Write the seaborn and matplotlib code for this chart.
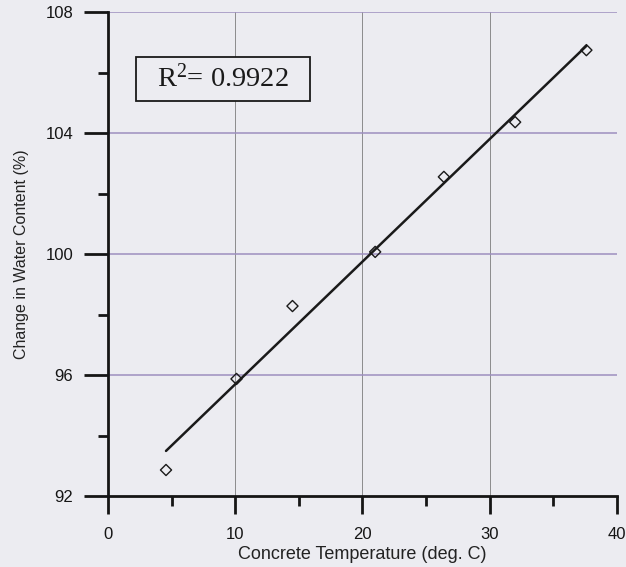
import numpy as np
import pandas as pd
import matplotlib
matplotlib.use('Agg')
import matplotlib.pyplot as plt
import seaborn as sns
from matplotlib.ticker import MultipleLocator
from matplotlib.patches import Rectangle

# values
temperature = [4.56, 10.1, 14.5, 21.0, 26.4, 32.0, 37.6]
water_change = [92.86, 95.87, 98.28, 100.07, 102.55, 104.36, 106.74]
r2_label = 'R$^2$= 0.9922'

df = pd.DataFrame({'temp': temperature, 'water': water_change})

bg = '#ececf1'
sns.set_style('white')
plt.rcParams['font.family'] = ['Liberation Sans', 'DejaVu Sans']
plt.rcParams['mathtext.fontset'] = 'custom'
plt.rcParams['mathtext.rm'] = 'Liberation Serif'
plt.rcParams['mathtext.it'] = 'Liberation Serif:italic'

fig = plt.figure(figsize=(6.26, 5.67), dpi=100, facecolor=bg)
ax = fig.add_axes([0.1725, 0.1252, 0.813, 0.8536])
ax.set_facecolor(bg)

# fitted trend line
sns.regplot(data=df, x='temp', y='water', ax=ax, scatter=False, ci=None,
            line_kws={'color': '#1a1a1a', 'lw': 1.8, 'zorder': 3})
# open diamond markers
sns.scatterplot(data=df, x='temp', y='water', ax=ax, marker='D', s=32,
                facecolor='none', edgecolor='#1a1a1a', linewidth=1.0, zorder=4)

ax.set_xlim(0, 40)
ax.set_ylim(92, 108)
ax.xaxis.set_major_locator(MultipleLocator(10))
ax.xaxis.set_minor_locator(MultipleLocator(5))
ax.yaxis.set_major_locator(MultipleLocator(4))
ax.yaxis.set_minor_locator(MultipleLocator(2))

# grid: vertical grey, horizontal tinted like the scan
for xv in [10, 20, 30, 40]:
    ax.axvline(xv, color='#8c8c8c', lw=0.7, zorder=1)
for yv in [96, 100, 104, 108]:
    ax.axhline(yv, color='#9d8fbf', lw=1.1, zorder=1)

for s in ['top', 'right']:
    ax.spines[s].set_visible(False)
for s in ['left', 'bottom']:
    ax.spines[s].set_linewidth(2.0)
    ax.spines[s].set_color('#151515')

ax.tick_params(axis='y', which='major', direction='out', length=17, width=2,
               pad=8, labelsize=12, colors='#151515', left=True)
ax.tick_params(axis='y', which='minor', direction='out', length=7, width=2,
               colors='#151515', left=True)
ax.tick_params(axis='x', which='major', direction='out', length=13, width=2,
               pad=9, labelsize=12, colors='#151515', bottom=True)
ax.tick_params(axis='x', which='minor', direction='out', length=7, width=2,
               colors='#151515', bottom=True)

ax.set_xlabel('Concrete Temperature (deg. C)', fontsize=13, color='#222222', labelpad=3)
ax.set_ylabel('Change in Water Content (%)', fontsize=11.5, color='#222222', labelpad=12)

# R^2 box
ax.add_patch(Rectangle((0.055, 0.816), 0.342, 0.091, transform=ax.transAxes,
                       facecolor=bg, edgecolor='#1a1a1a', lw=1.3, zorder=5))
ax.text(0.226, 0.862, r2_label, transform=ax.transAxes, ha='center', va='center',
        fontsize=20.5, family='Liberation Serif', color='#1a1a1a', zorder=6)

fig.savefig('out.png', dpi=100, facecolor=bg)
